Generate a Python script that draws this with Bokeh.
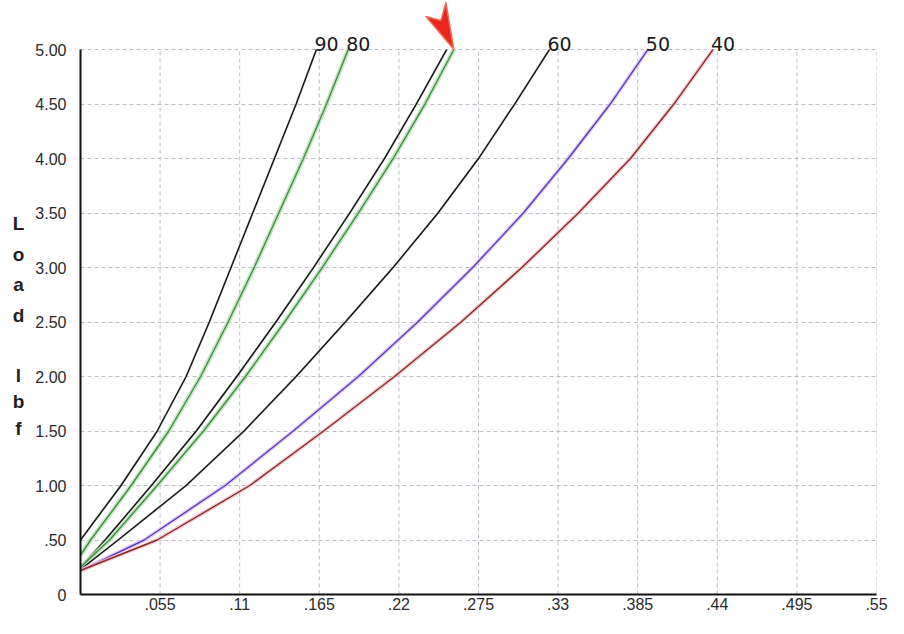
from bokeh.plotting import figure
from bokeh.layouts import row
from bokeh.models import Range1d, FixedTicker, LabelSet, ColumnDataSource
from bokeh.core.properties import value
from bokeh.embed import file_html
from bokeh.resources import INLINE

# ---- data (deflection in, load lbf) ----
load_90 = [0.50, 1.0, 1.5, 2.0, 2.5, 3.0, 3.5, 4.0, 4.5, 5.0]
defl_90 = [0.0, 0.028, 0.053, 0.073, 0.089, 0.104, 0.119, 0.134, 0.149, 0.163]

load_80 = [0.36, 0.5, 1.0, 1.5, 2.0, 2.5, 3.0, 3.5, 4.0, 4.5, 5.0]
defl_80 = [0.0, 0.007, 0.035, 0.061, 0.083, 0.102, 0.120, 0.137, 0.154, 0.170, 0.185]

load_70a = [0.25, 0.5, 1.0, 1.5, 2.0, 2.5, 3.0, 3.5, 4.0, 4.5, 5.0]
defl_70a = [0.0, 0.017, 0.049, 0.080, 0.108, 0.135, 0.161, 0.186, 0.210, 0.232, 0.253]

load_70b = [0.25, 0.5, 1.0, 1.5, 2.0, 2.5, 3.0, 3.5, 4.0, 4.5, 5.0]
defl_70b = [0.0, 0.020, 0.053, 0.085, 0.114, 0.141, 0.167, 0.192, 0.216, 0.238, 0.258]

load_60 = [0.23, 0.5, 1.0, 1.5, 2.0, 2.5, 3.0, 3.5, 4.0, 4.5, 5.0]
defl_60 = [0.0, 0.026, 0.073, 0.113, 0.149, 0.183, 0.216, 0.247, 0.275, 0.300, 0.324]

load_50 = [0.22, 0.5, 1.0, 1.5, 2.0, 2.5, 3.0, 3.5, 4.0, 4.5, 5.0]
defl_50 = [0.0, 0.044, 0.100, 0.147, 0.192, 0.233, 0.271, 0.306, 0.337, 0.366, 0.392]

load_40 = [0.22, 0.5, 1.0, 1.5, 2.0, 2.5, 3.0, 3.5, 4.0, 4.5, 5.0]
defl_40 = [0.0, 0.053, 0.117, 0.168, 0.217, 0.263, 0.305, 0.344, 0.380, 0.410, 0.437]

curve_labels = ["90", "80", "60", "50", "40"]

x_ticks = [0.055, 0.11, 0.165, 0.22, 0.275, 0.33, 0.385, 0.44, 0.495, 0.55]
x_tick_labels = [".055", ".11", ".165", ".22", ".275", ".33", ".385", ".44", ".495", ".55"]
y_ticks = [0, 0.5, 1.0, 1.5, 2.0, 2.5, 3.0, 3.5, 4.0, 4.5, 5.0]
y_tick_labels = ["0", ".50", "1.00", "1.50", "2.00", "2.50", "3.00", "3.50", "4.00", "4.50", "5.00"]

y_title_letters = ["L", "o", "a", "d", "l", "b", "f"]
y_title_levels = [3.40, 3.12, 2.84, 2.56, 2.01, 1.77, 1.52]

# ---- layout constants ----
X_MAX = 0.55
Y_TOP = 5.45          # room above the 5.00 line for curve labels and the arrow
H = 618
TOP_BORDER = 0
BOTTOM_BORDER = 24
LEFT_W = 30
MAIN_W = 888 - LEFT_W
MAIN_LEFT = 80 - LEFT_W
MAIN_RIGHT = 12
PX_PER_X = (MAIN_W - MAIN_LEFT - MAIN_RIGHT) / X_MAX
PX_PER_Y = (H - TOP_BORDER - BOTTOM_BORDER) / Y_TOP

# arrowhead outline, in screen pixels relative to its tip (x right, y down)
ARROW_PX_X = [0, -28, -13, -8]
ARROW_PX_Y = [0, -33, -29, -47]

yr = Range1d(0, Y_TOP)

# ---- left strip with the stacked axis title ----
side = figure(width=LEFT_W, height=H, output_backend="svg", toolbar_location=None,
              x_range=Range1d(0, 1), y_range=yr,
              min_border_left=0, min_border_right=0,
              min_border_top=TOP_BORDER, min_border_bottom=BOTTOM_BORDER)
side.axis.visible = False
side.grid.visible = False
side.outline_line_color = None
side.text(x=[0.6] * len(y_title_letters), y=y_title_levels, text=y_title_letters,
          text_align="center", text_baseline="middle",
          text_font=value("Liberation Sans"), text_font_style="bold",
          text_font_size="19px", text_color="#222222")

# ---- main chart ----
p = figure(width=MAIN_W, height=H, output_backend="svg", toolbar_location=None,
           x_range=Range1d(0, X_MAX), y_range=yr,
           min_border_left=MAIN_LEFT, min_border_right=MAIN_RIGHT,
           min_border_top=TOP_BORDER, min_border_bottom=BOTTOM_BORDER)
p.outline_line_color = None
p.background_fill_color = "white"
p.border_fill_color = "white"

for ax in (p.xaxis[0], p.yaxis[0]):
    ax.axis_line_color = "#111111"
    ax.axis_line_width = 2
    ax.major_tick_line_color = None
    ax.minor_tick_line_color = None
    ax.major_tick_out = 0
    ax.major_tick_in = 0
    ax.minor_tick_out = 0
    ax.major_label_text_font = "Liberation Sans"
    ax.major_label_text_font_size = "16px"
    ax.major_label_text_color = "#2a2a2a"

p.xaxis.ticker = FixedTicker(ticks=x_ticks)
p.xaxis.major_label_overrides = dict(zip(x_ticks, x_tick_labels))
p.xaxis.major_label_standoff = 3
p.yaxis.ticker = FixedTicker(ticks=y_ticks)
p.yaxis.major_label_overrides = dict(zip(y_ticks, y_tick_labels))
p.yaxis.major_label_standoff = 14
p.yaxis.bounds = (y_ticks[0], y_ticks[-1])

GRID_COLOR = "#bdbbc9"
p.xgrid.visible = False
p.ygrid.grid_line_color = GRID_COLOR
p.ygrid.grid_line_dash = "4 3"
p.ygrid.grid_line_width = 1
# vertical grid lines only up to the top tick (5.00)
p.segment(x0=x_ticks, y0=[y_ticks[0]] * len(x_ticks), x1=x_ticks, y1=[y_ticks[-1]] * len(x_ticks),
          line_color=GRID_COLOR, line_dash="4 3", line_width=1)

# ---- curves ----
def curve(xs, ys, core, halo, halo_w):
    p.line(xs, ys, line_color=halo, line_width=halo_w, line_alpha=0.8, line_join="round")
    p.line(xs, ys, line_color=core, line_width=1.4, line_join="round")

curve(defl_90, load_90, "#111111", "#d0d0d0", 2.5)
curve(defl_80, load_80, "#3f8f3f", "#b7e0b7", 4.5)
curve(defl_70a, load_70a, "#111111", "#d0d0d0", 2.5)
curve(defl_70b, load_70b, "#3f8f3f", "#b7e0b7", 4.5)
curve(defl_60, load_60, "#111111", "#d0d0d0", 2.5)
curve(defl_50, load_50, "#5a3cc0", "#dcc0f2", 4.0)
curve(defl_40, load_40, "#8a2a2a", "#f0c0c8", 4.0)

# ---- curve labels ----
lab_src = ColumnDataSource(dict(
    x=[defl_90[-1], defl_80[-1], defl_60[-1], defl_50[-1], defl_40[-1]],
    y=[load_90[-1], load_80[-1], load_60[-1], load_50[-1], load_40[-1]],
    t=curve_labels))
p.add_layout(LabelSet(x="x", y="y", text="t", source=lab_src, x_offset=-2, y_offset=-1,
                      text_align="left", text_baseline="alphabetic",
                      text_font=value("DejaVu Sans"), text_font_size="19px",
                      text_color="#1a1a1a"))

# ---- red arrowhead pointing at the end of the unlabeled green curve ----
tip_x, tip_y = defl_70b[-1], load_70b[-1]
arrow_xs = [tip_x + dx / PX_PER_X for dx in ARROW_PX_X]
arrow_ys = [tip_y - dy / PX_PER_Y for dy in ARROW_PX_Y]
p.patch(arrow_xs, arrow_ys, fill_color="#e8261e", line_color="#f07060", line_width=1.5,
        line_join="round")

open("out.html", "w").write(file_html(row(side, p, spacing=0), INLINE))
